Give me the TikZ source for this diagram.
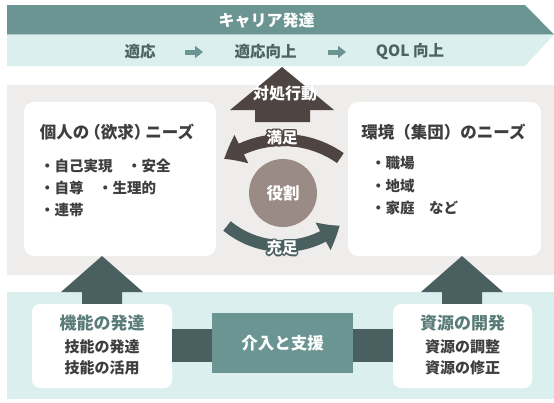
\documentclass[tikz,border=0pt]{standalone}
\usepackage{fontspec}
\setmainfont{Noto Sans CJK JP}
\usetikzlibrary{arrows.meta,bending,calc}
\definecolor{tealdk}{HTML}{6B9592}
\definecolor{teallt}{HTML}{DBEFEE}
\definecolor{graybg}{HTML}{EFEDEB}
\definecolor{browndk}{HTML}{4E4442}
\definecolor{tealx}{HTML}{4A5F5F}
\definecolor{mauve}{HTML}{9A8B87}
\definecolor{txtdk}{HTML}{3E3E3E}
\definecolor{txtteal}{HTML}{4B6362}
\definecolor{ttlteal}{HTML}{5B7D7A}
\newcommand\fsz[1]{\fontsize{#1}{#1}\selectfont}
\newcommand\outlinetext[4]{%
  \foreach \ang in {0,45,...,315}{\node[arclbl,text=#3] at ([shift={(\ang:1.6)}]#2) {#4};}
  \node[arclbl,text=white] (#1) at (#2) {#4};}
\tikzset{
  every node/.style={inner sep=0pt, outer sep=0pt},
  arclbl/.style={font=\bfseries\fsz{15.5}},
  wbox/.style={fill=white, rounded corners=10pt},
  bbox/.style={fill=white, rounded corners=8pt},
  rowtxt/.style={text=txtteal, font=\bfseries\fsz{15.5}},
  rowarr/.style={draw=tealdk, line width=5pt, -{Triangle[length=8pt,width=12pt]}},
  ttl/.style={text=txtdk, font=\bfseries\fsz{16.5}},
  bul/.style={text=txtdk, font=\bfseries\fsz{14.5}, anchor=west},
  bttl/.style={text=ttlteal, font=\bfseries\fsz{17}},
  bsub/.style={text=txtdk, font=\bfseries\fsz{15}},
}
\begin{document}
\begin{tikzpicture}[x=1pt,y=-1pt]
\useasboundingbox (0,0) rectangle (554,402);
\fill[white] (0,0) rectangle (554,402);
% top chevron band
\fill[tealdk] (7,5) -- (525,5) -- (554,34.5) -- (7,34.5) -- cycle;
\fill[teallt] (7,34.5) -- (554,34.5) -- (525,66) -- (7,66) -- cycle;
\node[text=white, font=\bfseries\fsz{16}] (career) at (266.5,21) {キャリア発達};
\node[rowtxt] (s1) at (140,52) {適応};
\node[rowtxt] (s2) at (265.5,52) {適応向上};
\node[rowtxt] (s3) at (410,52) {QOL 向上};
\coordinate (a1s) at (185,52); \coordinate (a1e) at (203,52);
\coordinate (a2s) at (328,52); \coordinate (a2e) at (346,52);
\draw[rowarr] (a1s) -- (a1e);
\draw[rowarr] (a2s) -- (a2e);
% panels
\fill[graybg] (7,85) rectangle (554,275);
\fill[teallt] (7,292) rectangle (554,399);
% up arrow (coping)
\fill[browndk] (282,67) -- (334,110) -- (310,110) -- (310,122) -- (255,122) -- (255,110) -- (230,110) -- cycle;
\node[text=white, font=\bfseries\fsz{16}] (cope) at (285,93) {対処行動};
% up arrows from bottom boxes
\fill[tealx] (102,256) -- (143,292) -- (122,292) -- (122,306) -- (82,306) -- (82,292) -- (61,292) -- cycle;
\fill[tealx] (462,256) -- (503,292) -- (482,292) -- (482,306) -- (442,306) -- (442,292) -- (421,292) -- cycle;
% middle boxes
\node[wbox, minimum width=192pt, minimum height=154pt] (indiv) at (120,179) {};
\node[wbox, minimum width=193pt, minimum height=154pt] (env) at (444.5,179) {};
\node[ttl] (indivT) at (117,132) {個人の\kern-5pt（欲求）\kern-5pt ニーズ};
\node[bul] (b1) at (40,166) {・自己実現　・安全};
\node[bul] (b2) at (40,188) {・自尊　・生理的};
\node[bul] (b3) at (40,210) {・連帯};
\node[ttl] (envT) at (443.5,132) {環境（集団）のニーズ};
\node[bul] (e1) at (371,163) {・職場};
\node[bul] (e2) at (371,186) {・地域};
\node[bul] (e3) at (371,208) {・家庭　など};
% role circle
\node[circle, fill=mauve, minimum size=68pt, text=white, font=\bfseries\fsz{16.5}] (role) at (283,193) {役割};
% arcs
\coordinate (ctop) at (283,240);
\coordinate (cbot) at (283,158);
\draw[browndk, line width=12pt, -{Triangle[length=20pt,width=30pt,bend]}] (ctop) ++(-55:100) arc[start angle=-55, end angle=-126, radius=100];
\draw[tealx, line width=12pt, -{Triangle[length=20pt,width=30pt,bend]}] (cbot) ++(129.5:88) arc[start angle=129.5, end angle=50, radius=88];
\outlinetext{sat}{282,138}{browndk}{満足}
\outlinetext{ful}{282,248}{tealx}{充足}
% bottom boxes
\node[bbox, minimum width=140pt, minimum height=84pt] (func) at (102,346) {};
\node[bbox, minimum width=139pt, minimum height=84pt] (res) at (462.5,346) {};
\node[fill=tealdk, minimum width=141pt, minimum height=60pt, text=white, font=\bfseries\fsz{16.5}] (mid) at (282.5,343) {介入と支援};
\fill[tealx] ($(func.east)+(0,-17)$) rectangle ($(mid.west |- func.east)+(0,16)$);
\fill[tealx] ($(mid.east |- res.west)+(0,-17)$) rectangle ($(res.west)+(0,16)$);
\node[bttl] (funcT) at (102,323) {機能の発達};
\node[bsub] (f1) at (102,347) {技能の発達};
\node[bsub] (f2) at (102,368) {技能の活用};
\node[bttl] (resT) at (462.5,323) {資源の開発};
\node[bsub] (r1) at (462.5,347) {資源の調整};
\node[bsub] (r2) at (462.5,368) {資源の修正};
\end{tikzpicture}
\end{document}
